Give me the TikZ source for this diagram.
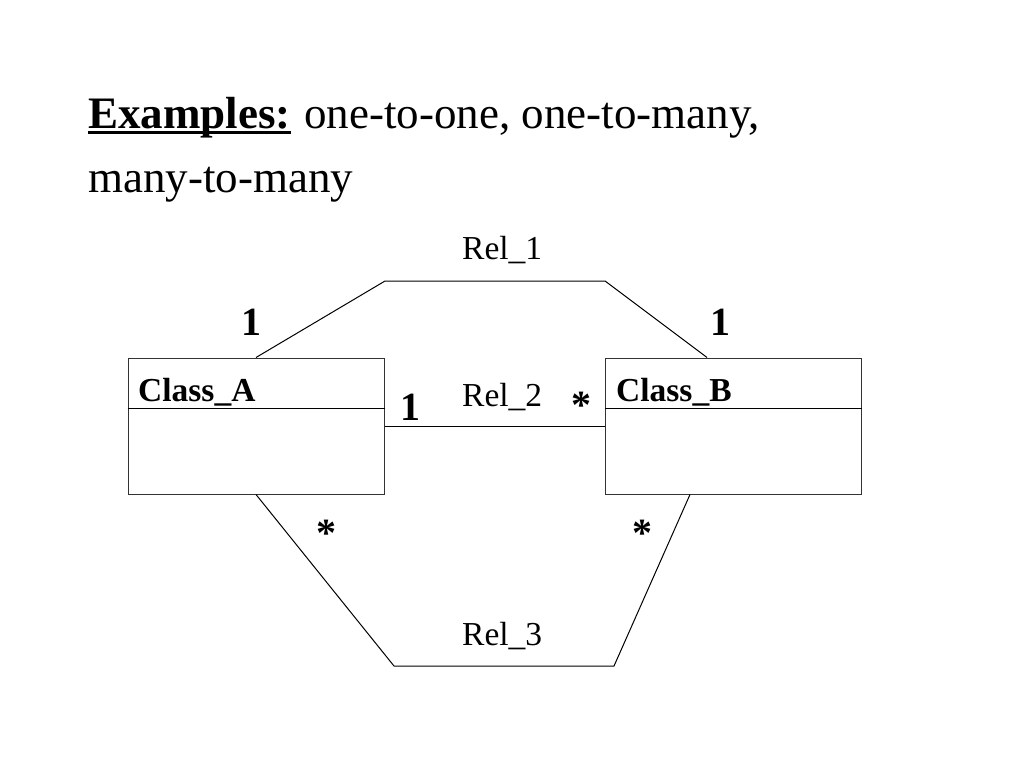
\documentclass[tikz,border=0pt]{standalone}
\usepackage{fontspec}
\setmainfont{Liberation Serif}
\usetikzlibrary{calc}
\begin{document}
\begin{tikzpicture}[x=1pt,y=-1pt,
  lbl/.style={inner sep=0pt,anchor=base west,font=\fontsize{33.5}{40}\selectfont},
  cls/.style={inner sep=0pt,anchor=base west,font=\fontsize{33.5}{40}\selectfont\bfseries},
  mult/.style={inner sep=0pt,anchor=base,font=\fontsize{40}{48}\selectfont\bfseries},
  title/.style={inner sep=0pt,anchor=base west,font=\fontsize{45}{54}\selectfont},
  classbox/.style={draw=black!80,line width=1pt,minimum width=256pt,minimum height=136pt,inner sep=0pt},
  conn/.style={line width=1pt}]
\useasboundingbox[fill=white] (0,0) rectangle (1024,768);
% title
\node[title,font=\fontsize{45}{54}\selectfont\bfseries] (ex) at (88,128) {Examples:};
\draw[line width=3pt] ($(ex.base west)+(0,4)$) -- ($(ex.base east)+(0,4)$);
\node[title] (t1) at (304,128) {one-to-one, one-to-many,};
\node[title] (t2) at (88,192) {many-to-many};
% classes
\node[classbox] (A) at (256,426) {};
\node[classbox] (B) at (733.5,426) {};
\draw[conn] ($(A.north west)+(0,51)$) -- ($(A.north east)+(0,51)$);
\draw[conn] ($(B.north west)+(0,51)$) -- ($(B.north east)+(0,51)$);
\node[cls] (ca) at (138,401) {Class\_A};
\node[cls] (cb) at (616,401) {Class\_B};
% Rel_1
\coordinate (r1a) at (385,281);
\coordinate (r1b) at (605,281);
\coordinate (Bt) at ($(B.north west)+(102,0)$);
\draw[conn] (A.north) -- (r1a) -- (r1b) -- (Bt);
\node[lbl] (rel1) at (462,259) {Rel\_1};
\node[mult] (m1a) at (251,335) {1};
\node[mult] (m1b) at (720,335) {1};
% Rel_2
\draw[conn] (A.east) -- (B.west);
\node[lbl] (rel2) at (462,406) {Rel\_2};
\node[mult] (m2a) at (410,420) {1};
\node[mult] (m2b) at (581,418) {*};
% Rel_3
\coordinate (r3a) at (394,666);
\coordinate (r3b) at (614,666);
\coordinate (Bb) at ($(B.south west)+(85,0)$);
\draw[conn] (A.south) -- (r3a) -- (r3b) -- (Bb);
\node[lbl] (rel3) at (462,645) {Rel\_3};
\node[mult] (m3a) at (326,546) {*};
\node[mult] (m3b) at (642,546) {*};
\end{tikzpicture}
\end{document}
